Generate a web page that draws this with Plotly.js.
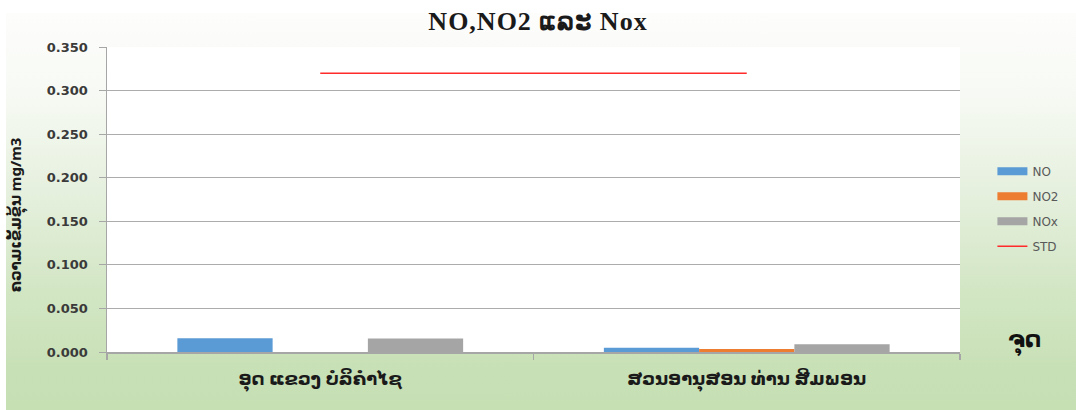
<!DOCTYPE html>
<html>
<head>
<meta charset="utf-8">
<script src="https://cdn.plot.ly/plotly-3.0.1.min.js"></script>
<style>
  html, body { margin: 0; padding: 0; background: #ffffff; }
  #bg { position: absolute; left: 6px; top: 13px; width: 1070px; height: 397px;
        background: linear-gradient(to bottom, #fdfdfc 0%, #f7faf4 20%, #e6f0de 45%, #d2e6c4 70%, #c8e0b6 90%, #c6dfb3 100%); }
  #chart { position: absolute; left: 0; top: 0; width: 1076px; height: 410px; }
  .gtitle { letter-spacing: 1px; }
</style>
</head>
<body>
<div id="bg"></div>
<div id="chart"></div>
<script>
const categories = ["ອຸດ ແຂວງ ບໍລິຄໍາໄຊ", "ສວນອານຸສອນ ທ່ານ ສີມພອນ"];
const noValues   = [0.0157, 0.0050];
const no2Values  = [0.0000, 0.0035];
const noxValues  = [0.0155, 0.0090];
const stdValues  = [0.320, 0.320];
const yTicks     = [0, 0.05, 0.1, 0.15, 0.2, 0.25, 0.3, 0.35];

const colors = { NO: "#5b9bd5", NO2: "#ed7d31", NOx: "#a5a5a5", STD: "#ff2a2a" };

const traces = [
  { type: "bar", x: categories, y: noValues, name: "NO", marker: { color: colors.NO }, showlegend: false, legendgroup: "a" },
  { type: "bar", x: categories, y: no2Values, name: "NO2", marker: { color: colors.NO2 }, showlegend: false, legendgroup: "b" },
  { type: "bar", x: categories, y: noxValues, name: "NOx", marker: { color: colors.NOx }, showlegend: false, legendgroup: "c" },
  { type: "scatter", mode: "lines", x: categories, y: stdValues, name: "STD", line: { color: colors.STD, width: 1.5 }, showlegend: false, legendgroup: "d" },
  // legend entries (wide swatches like the original)
  { type: "scatter", mode: "lines", x: [null], y: [null], name: "NO", line: { color: colors.NO, width: 8 }, legendgroup: "a" },
  { type: "scatter", mode: "lines", x: [null], y: [null], name: "NO2", line: { color: colors.NO2, width: 8 }, legendgroup: "b" },
  { type: "scatter", mode: "lines", x: [null], y: [null], name: "NOx", line: { color: colors.NOx, width: 8 }, legendgroup: "c" },
  { type: "scatter", mode: "lines", x: [null], y: [null], name: "STD", line: { color: colors.STD, width: 1.5 }, legendgroup: "d" }
];

const layout = {
  width: 1076, height: 410,
  margin: { l: 107, r: 113, t: 47, b: 58 },
  paper_bgcolor: "rgba(0,0,0,0)",
  plot_bgcolor: "#ffffff",
  barmode: "group",
  bargap: 0.33,
  bargroupgap: 0,
  title: {
    text: "NO,NO2 ແລະ Nox",
    x: 0.5, xref: "container", xanchor: "center",
    y: 0.95, yref: "container", yanchor: "middle",
    font: { family: "Liberation Serif, 'Noto Sans', serif", size: 26, color: "#1a1a1a", weight: "bold" }
  },
  xaxis: {
    type: "category",
    showgrid: false,
    showline: true, linecolor: "#a6a6a6", linewidth: 1.5,
    ticks: "outside", tickson: "boundaries", ticklen: 6, tickcolor: "#a6a6a6", tickwidth: 1.5,
    ticklabelstandoff: 10,
    tickfont: { family: "'Noto Sans', 'DejaVu Sans', sans-serif", size: 18, color: "#1a1a1a", weight: "bold" },
    fixedrange: true
  },
  yaxis: {
    range: [0, 0.35],
    tickvals: yTicks,
    tickformat: ".3f",
    showgrid: true, gridcolor: "#acacac", gridwidth: 1,
    showline: true, linecolor: "#a6a6a6", linewidth: 1.5,
    ticks: "outside", ticklen: 7, tickcolor: "#a6a6a6", tickwidth: 1,
    ticklabelstandoff: 8,
    zeroline: false,
    tickfont: { family: "'DejaVu Sans', sans-serif", size: 13, color: "#3a3a3a", weight: "bold" },
    fixedrange: true
  },
  legend: {
    x: 1.038, xanchor: "left", y: 0.64, yanchor: "top",
    bgcolor: "rgba(0,0,0,0)",
    traceorder: "grouped", tracegroupgap: 6,
    font: { family: "'DejaVu Sans', sans-serif", size: 12, color: "#595959" }
  },
  annotations: [
    { text: "ຄວາມເຂັ້ມຂຸ້ນ mg/m3", xref: "paper", yref: "paper", x: -0.106, y: 0.45,
      textangle: -90, showarrow: false, xanchor: "center", yanchor: "middle",
      font: { family: "'Noto Sans', 'DejaVu Sans', sans-serif", size: 15, color: "#1a1a1a", weight: "bold" } },
    { text: "ຈຸດ", xref: "paper", yref: "paper", x: 1.076, y: 0.04,
      showarrow: false, xanchor: "center", yanchor: "middle",
      font: { family: "'Noto Sans', 'DejaVu Sans', sans-serif", size: 23, color: "#111111", weight: "bold" } }
  ]
};

Plotly.newPlot("chart", traces, layout, { displayModeBar: false, staticPlot: true });
</script>
</body>
</html>
